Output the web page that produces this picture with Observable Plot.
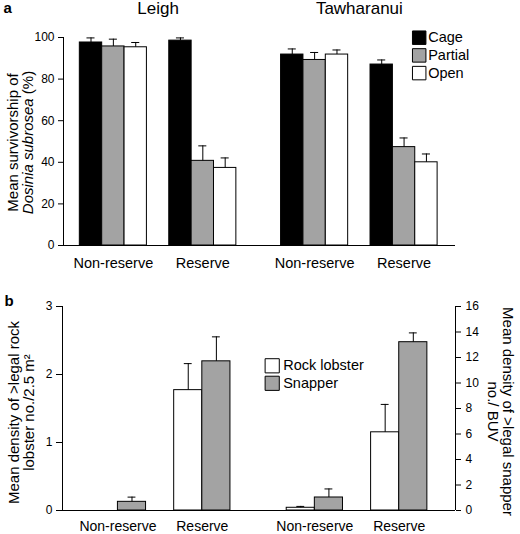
<!DOCTYPE html>
<html>
<head>
<meta charset="utf-8">
<script src="https://cdn.jsdelivr.net/npm/d3@7"></script>
<script src="https://cdn.jsdelivr.net/npm/@observablehq/plot@0.6"></script>
<style>
  html, body { margin: 0; padding: 0; background: #fff; }
  #chart { position: relative; width: 520px; height: 534px; font-family: "Liberation Sans", Arial, sans-serif; }
  #chart svg { position: absolute; left: 0; }
</style>
</head>
<body>
<div id="chart"></div>
<script>
// ---------- data ----------
const sites = ["Leigh", "Tawharanui"];
const zones = ["Non-reserve", "Reserve"];
// group order: Leigh Non-reserve, Leigh Reserve, Tawharanui Non-reserve, Tawharanui Reserve

// panel a: survivorship of Dosinia subrosea (%)
const treatments = ["Cage", "Partial", "Open"];
const cageMean    = [97.6, 98.5, 91.8, 87.0];
const cageSE      = [2.2, 1.3, 2.7, 2.2];
const partialMean = [95.7, 40.7, 89.2, 47.3];
const partialSE   = [3.5, 7.2, 3.6, 4.4];
const openMean    = [95.3, 37.3, 91.8, 40.0];
const openSE      = [2.3, 4.8, 2.2, 4.0];
const yTicksA = [0, 20, 40, 60, 80, 100];

// panel b: densities of legal-sized predators
const species = ["Rock lobster", "Snapper"];
const lobsterMean = [0, 1.77, 0.04, 1.15];
const lobsterSE   = [0, 0.39, 0.02, 0.41];
const snapperMean = [0.68, 11.7, 1.02, 13.2];
const snapperSE   = [0.37, 1.92, 0.67, 0.73];
const yTicksLobster = [0, 1, 2, 3];
const yTicksSnapper = [0, 2, 4, 6, 8, 10, 12, 14, 16];

// ---------- helpers ----------
const FONT = "'Liberation Sans', Arial, sans-serif";
const GRAY = "#a3a3a3";

// slot layout: series side by side, one empty slot between zones, two between sites
function groupStart(g, n) { return g * (n + 1) + Math.floor(g / 2); }

function makeRows(seriesNames, means, ses) {
  const rows = [];
  seriesNames.forEach((s, k) => {
    means[k].forEach((m, g) => {
      rows.push({
        site: sites[Math.floor(g / 2)], zone: zones[g % 2], series: s,
        mean: m, se: ses[k][g], pos: groupStart(g, seriesNames.length) + k
      });
    });
  });
  return rows;
}
function makeGroups(n) {
  return [0, 1, 2, 3].map(g => ({zone: zones[g % 2], center: groupStart(g, n) + n / 2}));
}
function makeSites(n) {
  return sites.map((s, i) => ({site: s, center: groupStart(2 * i, n) + n + 0.5}));
}

function barMarks(rows, fill, capHalf) {
  const withErr = rows.filter(d => d.se > 0);
  return [
    Plot.rect(rows, {x1: "pos", x2: d => d.pos + 1, y1: () => 0, y2: "mean", fill, stroke: "#000", strokeWidth: 1}),
    Plot.ruleX(withErr, {x: d => d.pos + 0.5, y1: "mean", y2: d => d.mean + d.se, stroke: "#000", strokeWidth: 1}),
    Plot.ruleY(withErr, {y: d => d.mean + d.se, x1: d => d.pos + 0.5 - capHalf, x2: d => d.pos + 0.5 + capHalf, stroke: "#000", strokeWidth: 1})
  ];
}

function legendMarks(names, colors, anchor, sqDx, txDx, dy0, step, r, fontSize) {
  const marks = [];
  names.forEach((n, i) => {
    marks.push(Plot.dot([n], {frameAnchor: anchor, dx: sqDx, dy: dy0 + i * step, symbol: "square", r, fill: colors[i], stroke: "#000", strokeWidth: 1}));
    marks.push(Plot.text([n], {frameAnchor: anchor, dx: txDx, dy: dy0 + i * step, text: d => d, textAnchor: "start", lineAnchor: "middle", fontSize, fill: "#000"}));
  });
  return marks;
}

const chart = document.getElementById("chart");

// ---------- panel a ----------
const colorsA = ["#000", GRAY, "#fff"];
const rowsA = makeRows(treatments, [cageMean, partialMean, openMean], [cageSE, partialSE, openSE]);
const xDomA = [-0.73, 16.8];

const svgA = Plot.plot({
  width: 520, height: 280,
  marginLeft: 63, marginRight: 65, marginTop: 37, marginBottom: 35,
  x: {domain: xDomA, axis: null},
  y: {domain: [0, 100]},
  style: {fontFamily: FONT, fontSize: "12px", background: "transparent", overflow: "visible", color: "#000"},
  marks: [
    ...treatments.flatMap((t, k) => barMarks(rowsA.filter(d => d.series === t), colorsA[k], 0.18)),
    Plot.ruleY([0], {stroke: "#000"}),
    Plot.ruleX([xDomA[0]], {stroke: "#000"}),
    Plot.axisY(yTicksA, {tickSize: 5, tickPadding: 4, fontSize: 12, label: null, tickFormat: d => String(d)}),
    Plot.text(makeGroups(3), {x: "center", text: "zone", frameAnchor: "bottom", dy: 12, lineAnchor: "top", fontSize: 14.5, fill: "#000"}),
    Plot.text(makeSites(3), {x: "center", text: "site", frameAnchor: "top", dy: -24, lineAnchor: "bottom", fontSize: 17, fill: "#000"}),
    Plot.text(["Mean survivorship of\nDosinia subrosea (%)"], {frameAnchor: "left", dx: -43, dy: 1, rotate: -90, text: d => d, textAnchor: "middle", lineAnchor: "middle", fontSize: 15, fill: "#000"}),
    Plot.text(["a"], {frameAnchor: "top-left", dx: -60, dy: -25, text: d => d, textAnchor: "start", lineAnchor: "bottom", fontSize: 15, fontWeight: "bold", fill: "#000"}),
    ...legendMarks(treatments, colorsA, "top-right", -36.3, -27.3, 0.2, 17.7, 7.6, 14.5)
  ]
});
svgA.style.top = "0px";
svgA.querySelectorAll("tspan").forEach(ts => {
  if (ts.textContent === "Dosinia subrosea (%)") {
    ts.textContent = "";
    const it = document.createElementNS("http://www.w3.org/2000/svg", "tspan");
    it.setAttribute("font-style", "italic");
    it.textContent = "Dosinia subrosea";
    ts.appendChild(it);
    ts.appendChild(document.createTextNode(" (%)"));
  }
});
chart.appendChild(svgA);

// ---------- panel b ----------
const colorsB = ["#fff", GRAY];
const rowsB = makeRows(species, [lobsterMean, snapperMean], [lobsterSE, snapperSE]);
const xDomB = [-0.97, 13];
const commonB = {
  width: 520, height: 254,
  marginLeft: 62, marginRight: 65, marginTop: 26, marginBottom: 24,
  x: {domain: xDomB, axis: null},
  style: {fontFamily: FONT, fontSize: "12px", background: "transparent", overflow: "visible", color: "#000"}
};

const svgB1 = Plot.plot({
  ...commonB,
  y: {domain: [0, 3]},
  marks: [
    ...barMarks(rowsB.filter(d => d.series === "Rock lobster"), colorsB[0], 0.14),
    Plot.ruleY([0], {stroke: "#000"}),
    Plot.ruleX([xDomB[0]], {stroke: "#000"}),
    Plot.axisY(yTicksLobster, {tickSize: 6, tickPadding: 4, fontSize: 12, label: null, tickFormat: d => String(d)}),
    Plot.text(makeGroups(2), {x: "center", text: "zone", frameAnchor: "bottom", dy: 11, lineAnchor: "top", fontSize: 14, fill: "#000"}),
    Plot.text(["Mean density of >legal rock\nlobster no./2.5 m²"], {frameAnchor: "left", dx: -41, dy: 4, rotate: -90, text: d => d, textAnchor: "middle", lineAnchor: "middle", fontSize: 15, fill: "#000"}),
    Plot.text(["b"], {frameAnchor: "top-left", dx: -58, dy: -1, text: d => d, textAnchor: "start", lineAnchor: "bottom", fontSize: 15, fontWeight: "bold", fill: "#000"}),
    ...legendMarks(species, colorsB, "top-left", 209.7, 220.7, 59.3, 17.5, 8, 14.5)
  ]
});
svgB1.style.top = "280px";
chart.appendChild(svgB1);

const svgB2 = Plot.plot({
  ...commonB,
  y: {domain: [0, 16]},
  marks: [
    ...barMarks(rowsB.filter(d => d.series === "Snapper"), colorsB[1], 0.14),
    Plot.ruleX([xDomB[1]], {stroke: "#000"}),
    Plot.axisY(yTicksSnapper, {anchor: "right", tickSize: 5, tickPadding: 5, fontSize: 12, label: null, tickFormat: d => String(d)}),
    Plot.text(["Mean density of >legal snapper\nno./ BUV"], {frameAnchor: "right", dx: 45, dy: 3, rotate: 90, text: d => d, textAnchor: "middle", lineAnchor: "middle", fontSize: 15, fill: "#000"})
  ]
});
svgB2.style.top = "280px";
chart.appendChild(svgB2);
</script>
</body>
</html>
